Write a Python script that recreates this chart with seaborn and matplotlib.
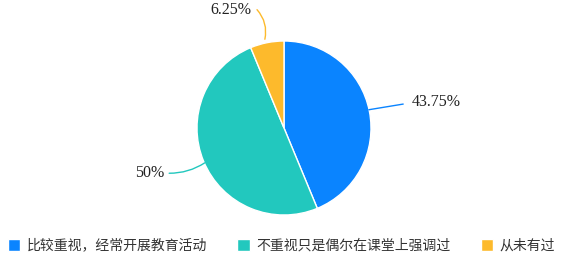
import matplotlib
matplotlib.use("Agg")
import matplotlib.pyplot as plt
import seaborn as sns

categories = ["比较重视，经常开展教育活动", "不重视只是偶尔在课堂上强调过", "从未有过"]
shares = [43.75, 50, 6.25]
labels = ["43.75%", "50%", "6.25%"]
colors = ["#0A84FF", "#22C8BE", "#FDBA2C"]

sns.set_theme(style="white")
plt.rcParams["font.family"] = ["Noto Sans CJK SC", "DejaVu Sans"]

fig = plt.figure(figsize=(5.66, 2.6), dpi=100)
ax = fig.add_axes([197 / 566, 45 / 260, 174 / 566, 174 / 260])
wedges, _ = ax.pie(shares, colors=sns.color_palette(colors), startangle=90,
                   counterclock=False, radius=1,
                   wedgeprops=dict(edgecolor="white", linewidth=1))
ax.set_xlim(-1, 1)
ax.set_ylim(-1, 1)

# label positions (text anchor, line start on pie, line end)
label_specs = [
    ((1.47, 0.30), (0.975, 0.21), (1.37, 0.275), "left", "arc3,rad=0"),
    ((-1.37, -0.52), (-0.91, -0.40), (-1.32, -0.52), "right", "arc3,rad=0.15"),
    ((-0.38, 1.36), (-0.22, 1.02), (-0.31, 1.36), "right", "arc3,rad=-0.25"),
]
for spec, lab, col in zip(label_specs, labels, colors):
    (tx, ty), start, end, ha, cs = spec
    ax.annotate("", xy=start, xytext=end,
                arrowprops=dict(arrowstyle="-", color=col, lw=1,
                                connectionstyle=cs, shrinkA=0, shrinkB=0),
                annotation_clip=False)
    ax.text(tx, ty, lab, ha=ha, va="center", fontsize=11.5,
            family="Liberation Serif", color="#222222")

fig.legend(wedges, categories, loc="center", bbox_to_anchor=(0.497, 0.055),
           ncol=3, frameon=False, fontsize=10, handlelength=0.9,
           handleheight=0.9, handletextpad=0.45, columnspacing=2.2,
           labelcolor="#333333")

fig.savefig("out.png", dpi=100)
